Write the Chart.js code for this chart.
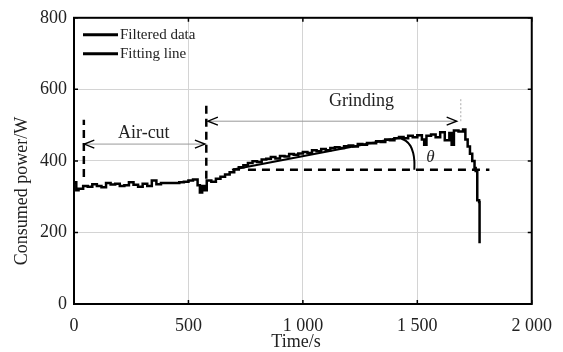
<!DOCTYPE html>
<html>
  <head>
    <meta charset="utf-8">
    <title>Consumed power</title>
    <script src="https://cdn.jsdelivr.net/npm/chart.js@4.4.1/dist/chart.umd.min.js"></script>
    <style>
      html, body { margin: 0; padding: 0; background: #fff; }
      #wrap { width: 563px; height: 352px; position: relative; }
    </style>
  </head>
  <body>
    <div id="wrap"><canvas id="chart1"></canvas></div>
    <script>
      // filtered power signal (s, W)
      var timeS  = [0, 10, 20, 40, 60, 80, 100, 120, 140, 160, 180, 200, 220, 240, 260, 280, 300, 320, 340, 360,
                    380, 400, 420, 440, 460, 480, 500, 520, 540, 550, 560, 570, 580, 600, 620, 640, 660, 680, 700, 720,
                    740, 760, 780, 800, 820, 840, 860, 880, 900, 920, 940, 960, 980, 1000, 1020, 1040, 1060, 1080, 1100, 1120,
                    1140, 1160, 1180, 1200, 1220, 1240, 1260, 1280, 1300, 1320, 1340, 1360, 1380, 1400, 1420, 1440, 1460, 1480, 1500, 1520,
                    1530, 1540, 1560, 1580, 1600, 1620, 1640, 1650, 1660, 1680, 1700, 1710, 1720, 1730, 1740, 1750, 1755, 1762, 1770, 1772];
      var powerW = [340, 318, 322, 330, 328, 335, 330, 326, 338, 334, 336, 330, 332, 340, 333, 328, 336, 330, 345, 335,
                    338, 338, 338, 338, 340, 342, 345, 348, 332, 312, 330, 318, 345, 342, 350, 356, 362, 368, 376, 382,
                    388, 394, 399, 397, 404, 406, 411, 407, 414, 412, 419, 417, 421, 425, 422, 430, 427, 433, 430, 436,
                    438, 436, 441, 443, 440, 447, 445, 450, 449, 455, 453, 460, 458, 463, 467, 463, 470, 466, 472, 460,
                    445, 470, 474, 466, 480, 458, 478, 445, 485, 482, 488, 460, 440, 420, 400, 380, 372, 290, 285, 170];

      // fitted trend and the theta arc
      var fitT = [690, 1420];
      var fitW = [375, 465];
      var arcT = [1420, 1450, 1470, 1482, 1487, 1487];
      var arcW = [465, 456, 442, 422, 400, 375];

      // reference level and phase markers
      var baseT = [760, 1815];
      var baseW = [375, 375];
      var cut1T = [43, 43];
      var cut1W = [355, 515];
      var cut2T = [578, 578];
      var cut2W = [350, 560];
      var endT = [1690, 1690];
      var endW = [511, 575];

      // double arrows: [from, to, level]
      var airCutArrow = [45, 572, 447];
      var grindArrow = [585, 1672, 511];

      var xTicks = [0, 500, 1000, 1500, 2000];
      var yTicks = [0, 200, 400, 600, 800];

      var serif = "'Liberation Serif', 'Times New Roman', serif";

      function pts(xs, ys) {
        var out = [];
        for (var i = 0; i < xs.length; i++) out.push({x: xs[i], y: ys[i]});
        return out;
      }

      function fmtThousands(v) {
        var s = String(v);
        if (s.length > 3) s = s.slice(0, s.length - 3) + ' ' + s.slice(s.length - 3);
        return s;
      }

      var decoPlugin = {
        id: 'deco',
        afterDatasetsDraw: function(chart) {
          var ctx = chart.ctx, a = chart.chartArea;
          var xs = chart.scales.x, ys = chart.scales.y;
          ctx.save();

          // arrows
          function arrow(spec) {
            var x1 = xs.getPixelForValue(spec[0]);
            var x2 = xs.getPixelForValue(spec[1]);
            var y = ys.getPixelForValue(spec[2]);
            ctx.strokeStyle = '#000';
            ctx.lineWidth = 1.4;
            ctx.beginPath();
            ctx.moveTo(x1 + 10, y - 4); ctx.lineTo(x1, y); ctx.lineTo(x1 + 10, y + 4);
            ctx.moveTo(x2 - 10, y - 4); ctx.lineTo(x2, y); ctx.lineTo(x2 - 10, y + 4);
            ctx.stroke();
          }
          arrow(airCutArrow);
          arrow(grindArrow);

          // annotations
          ctx.fillStyle = '#222';
          ctx.textAlign = 'center';
          ctx.textBaseline = 'middle';
          ctx.font = '18px ' + serif;
          ctx.fillText('Air-cut', xs.getPixelForValue(305), ys.getPixelForValue(478));
          ctx.fillText('Grinding', xs.getPixelForValue(1256), ys.getPixelForValue(568));
          ctx.font = 'italic 17px ' + serif;
          ctx.fillText('\u03b8', xs.getPixelForValue(1557), ys.getPixelForValue(410));

          // legend inside the plot
          var lx = a.left + 9, ly = a.top + 17;
          ctx.font = '15px ' + serif;
          ctx.textAlign = 'left';
          ctx.lineWidth = 3;
          ['Filtered data', 'Fitting line'].forEach(function(t, i) {
            var yy = ly + i * 19;
            ctx.beginPath();
            ctx.moveTo(lx, yy); ctx.lineTo(lx + 35, yy);
            ctx.stroke();
            ctx.fillText(t, lx + 37, yy);
          });

          // box and inward ticks
          ctx.lineWidth = 2;
          ctx.strokeStyle = '#000';
          ctx.strokeRect(a.left, a.top, a.right - a.left, a.bottom - a.top);
          ctx.lineWidth = 1.5;
          ctx.beginPath();
          xTicks.forEach(function(v) {
            var p = xs.getPixelForValue(v);
            ctx.moveTo(p, a.bottom); ctx.lineTo(p, a.bottom - 4);
            ctx.moveTo(p, a.top); ctx.lineTo(p, a.top + 4);
          });
          yTicks.forEach(function(v) {
            var p = ys.getPixelForValue(v);
            ctx.moveTo(a.left, p); ctx.lineTo(a.left + 4, p);
            ctx.moveTo(a.right, p); ctx.lineTo(a.right - 4, p);
          });
          ctx.stroke();

          // y axis title
          ctx.fillStyle = '#222';
          ctx.font = '18px ' + serif;
          ctx.textAlign = 'center';
          ctx.translate(22, 191);
          ctx.rotate(-Math.PI / 2);
          ctx.fillText('Consumed power/W', 0, 0);
          ctx.restore();
        }
      };

      var chartData = {
        datasets: [
          {label: 'Filtered data', data: pts(timeS, powerW), borderColor: '#000', borderWidth: 2.5, stepped: true},
          {label: 'Fitting line', data: pts(fitT, fitW), borderColor: '#000', borderWidth: 2},
          {label: 'arc', data: pts(arcT, arcW), borderColor: '#000', borderWidth: 2, tension: 0.4},
          {label: 'base', data: pts(baseT, baseW), borderColor: '#000', borderWidth: 2.5, borderDash: [8, 6]},
          {label: 'cut1', data: pts(cut1T, cut1W), borderColor: '#000', borderWidth: 2.5, borderDash: [8, 5]},
          {label: 'cut2', data: pts(cut2T, cut2W), borderColor: '#000', borderWidth: 2.5, borderDash: [8, 5]},
          {label: 'end', data: pts(endT, endW), borderColor: '#aaa', borderWidth: 1, borderDash: [2, 2]},
          {label: 'airArrow', data: pts([airCutArrow[0], airCutArrow[1]], [airCutArrow[2], airCutArrow[2]]), borderColor: '#999', borderWidth: 1},
          {label: 'grindArrow', data: pts([grindArrow[0], grindArrow[1]], [grindArrow[2], grindArrow[2]]), borderColor: '#999', borderWidth: 1}
        ]
      };

      var chartOptions = {
        responsive: false,
        animation: false,
        layout: {padding: {top: 16, right: 28, left: 0, bottom: 0}},
        elements: {point: {radius: 0}, line: {fill: false}},
        plugins: {legend: {display: false}, tooltip: {enabled: false}},
        scales: {
          x: {
            type: 'linear', min: 0, max: 2000,
            afterFit: function(s) { s.height = 48; },
            afterBuildTicks: function(s) { s.ticks = xTicks.map(function(v) { return {value: v}; }); },
            grid: {color: '#d4d4d4', lineWidth: 1, drawTicks: false},
            border: {display: false},
            ticks: {padding: 11, color: '#222', font: {family: serif, size: 18}, maxRotation: 0,
                    callback: function(v) { return fmtThousands(v); }}
          },
          y: {
            type: 'linear', min: 0, max: 800,
            afterFit: function(s) { s.width = 74; },
            afterBuildTicks: function(s) { s.ticks = yTicks.map(function(v) { return {value: v}; }); },
            grid: {color: '#d4d4d4', lineWidth: 1, drawTicks: false},
            border: {display: false},
            ticks: {padding: 7, color: '#222', font: {family: serif, size: 18}}
          }
        }
      };

      var cv = document.getElementById('chart1');
      cv.width = 563; cv.height = 352;
      new Chart(cv.getContext('2d'), {type: 'line', data: chartData, options: chartOptions, plugins: [decoPlugin]});
    </script>
    <script>
      // x axis title
      (function() {
        var d = document.createElement('div');
        d.textContent = 'Time/s';
        d.style.cssText = "position:absolute;left:0;width:592px;top:331px;text-align:center;font:18px 'Liberation Serif','Times New Roman',serif;color:#222;";
        document.getElementById('wrap').appendChild(d);
      })();
    </script>
  </body>
</html>
